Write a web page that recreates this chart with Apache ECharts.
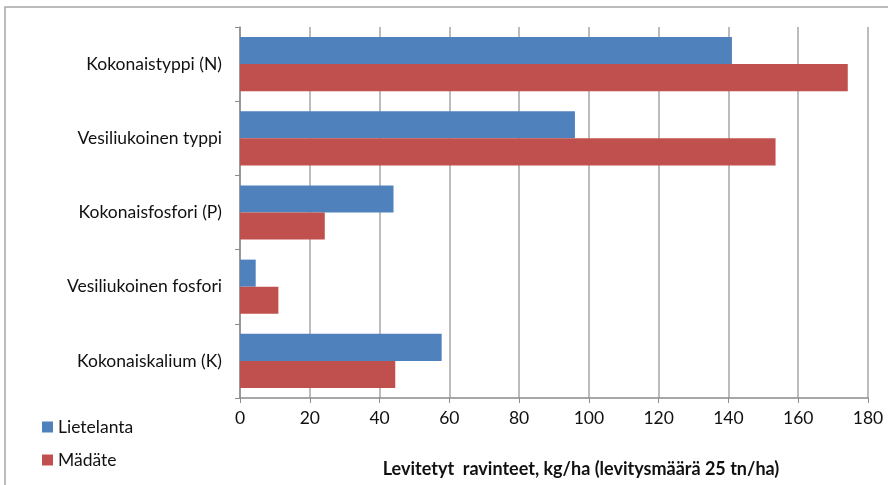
<!DOCTYPE html>
<html><head><meta charset="utf-8">
<script src="https://cdn.jsdelivr.net/npm/echarts@6/dist/echarts.min.js"></script>
<style>html,body{margin:0;padding:0;background:#fff}#c{width:888px;height:485px}</style>
</head><body><div id="c"></div>
<script>
const categories = ['Kokonaistyppi (N)', 'Vesiliukoinen typpi', 'Kokonaisfosfori (P)', 'Vesiliukoinen fosfori', 'Kokonaiskalium (K)'];
const lietelanta = [141, 96, 44, 4.5, 57.8];
const madate = [174.2, 153.5, 24.3, 11, 44.5];
const xTicks = [0, 20, 40, 60, 80, 100, 120, 140, 160, 180];
const seriesNames = ['Lietelanta', 'Mädäte'];
const axisTitle = 'Levitetyt  ravinteet, kg/ha (levitysmäärä 25 tn/ha)';

const chart = echarts.init(document.getElementById('c'));
const font = 'Lato, "Open Sans", sans-serif';
chart.setOption({
  animation: false,
  graphic: [{type:'rect', shape:{x:5, y:7, width:900, height:500}, style:{fill:'none', stroke:'#a6a6a6', lineWidth:1.5}, silent:true}],
  grid: {left: 240, right: 20, top: 27, bottom: 87},
  legend: {
    orient: 'vertical', left: 37, top: 413, itemGap: 15, itemWidth: 11, itemHeight: 11,
    icon: 'rect', data: seriesNames,
    textStyle: {fontFamily: font, fontSize: 17.5, color: '#111'}
  },
  xAxis: {
    type: 'value', min: 0, max: 180, interval: 20,
    name: axisTitle, nameLocation: 'middle', nameGap: 62,
    nameTextStyle: {fontFamily: font, fontSize: 18, fontWeight: 'bold', color: '#111', padding: [0, 0, 0, 54]},
    axisLine: {show: true, lineStyle: {color: '#8c8c8c', width: 1.5}},
    axisTick: {show: true, length: 5, lineStyle: {color: '#8c8c8c'}},
    axisLabel: {fontFamily: font, fontSize: 17.5, color: '#111', margin: 11,
      formatter: v => xTicks.includes(v) ? String(v) : ''},
    splitLine: {show: true, lineStyle: {color: '#a6a6a6', width: 1.5}}
  },
  yAxis: {
    type: 'category', data: categories, inverse: true,
    axisLine: {show: true, lineStyle: {color: '#8c8c8c', width: 1.5}},
    axisTick: {show: true, length: 5, lineStyle: {color: '#8c8c8c'}},
    axisLabel: {fontFamily: font, fontSize: 17.5, color: '#111', margin: 18}
  },
  series: [
    {name: seriesNames[0], type: 'bar', data: lietelanta, barGap: '0%', barCategoryGap: '27%',
      itemStyle: {color: '#4F81BD'}},
    {name: seriesNames[1], type: 'bar', data: madate, barGap: '0%', barCategoryGap: '27%',
      itemStyle: {color: '#C0504D'}}
  ]
});
</script></body></html>
